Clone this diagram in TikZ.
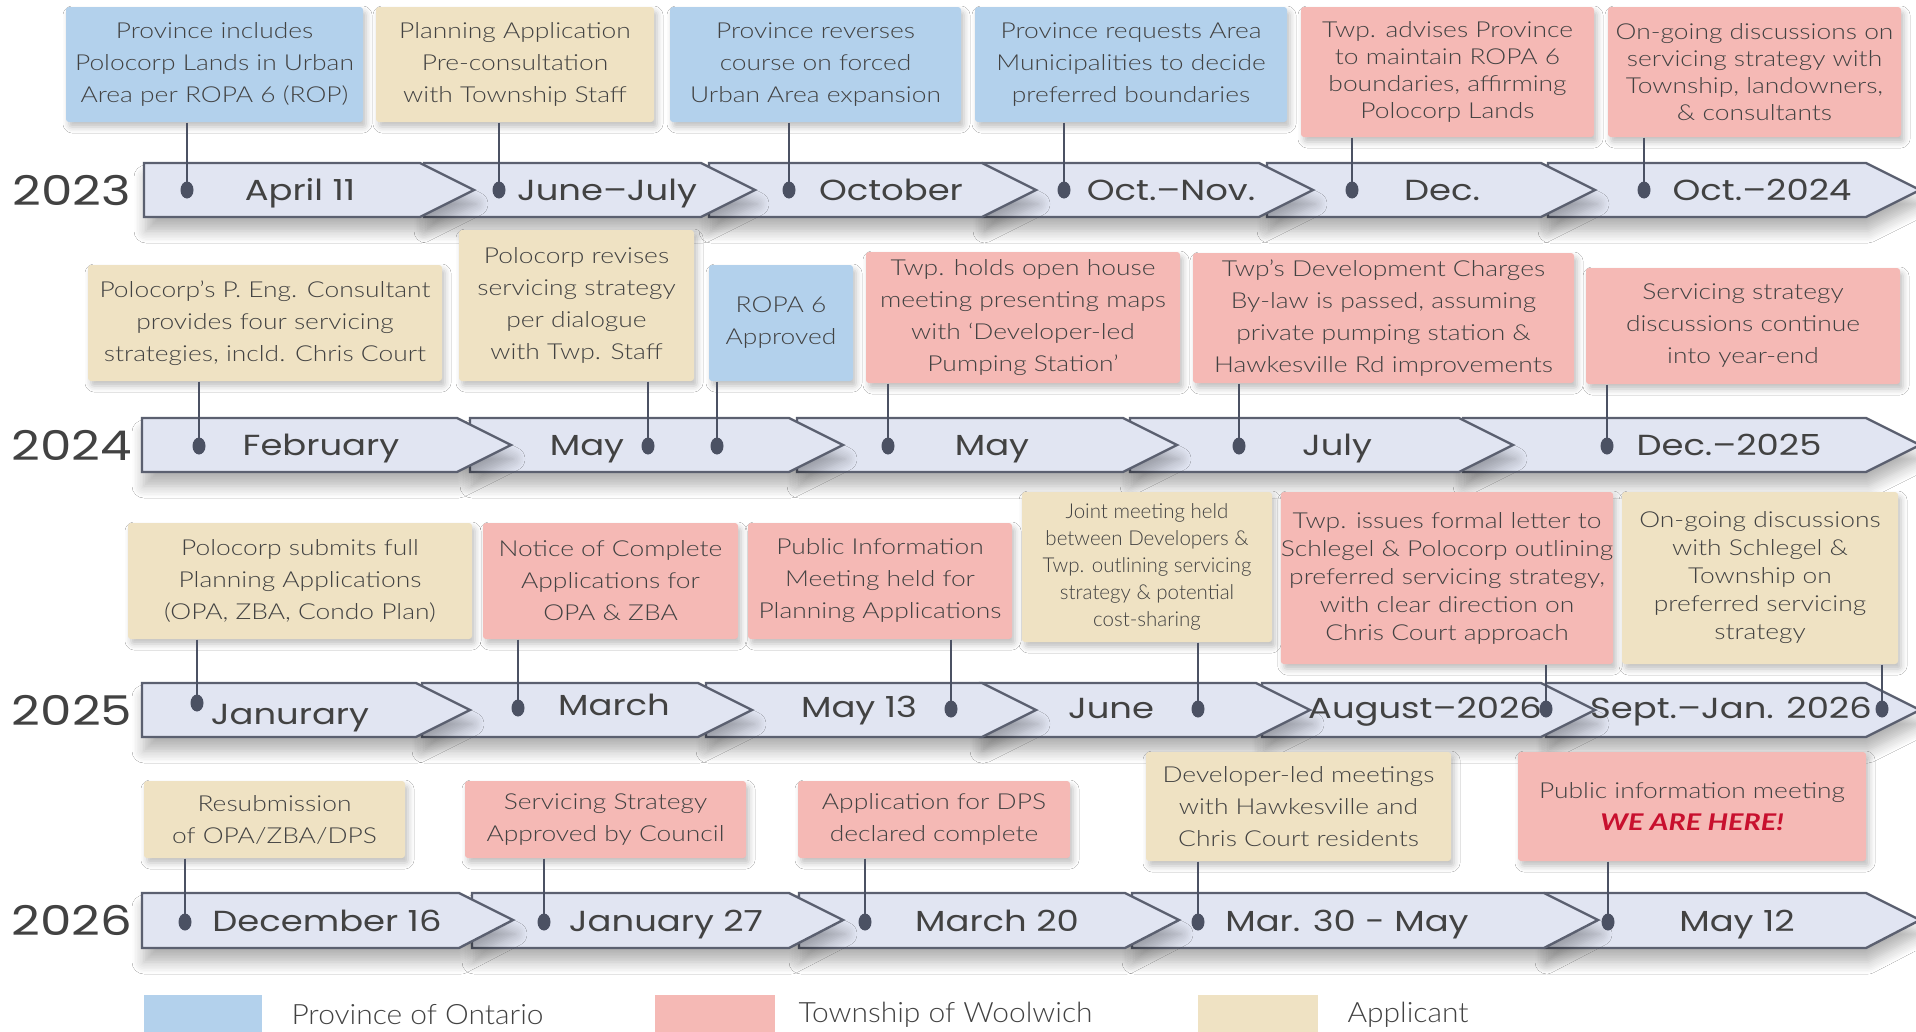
\documentclass[tikz,border=0pt]{standalone}
\usepackage{fontspec}
\setmainfont{Lato}
\newfontfamily\boxfont[FakeStretch=1.2]{Lato Light}
\newfontfamily\keyfont[FakeStretch=1.07]{Lato Light}
\newfontfamily\lightfont{Lato Light}
\newfontfamily\herefont[FakeStretch=1.25]{Lato}
\newfontfamily\datefont[FakeStretch=1.22]{Poppins}
\usetikzlibrary{shapes.geometric, shadows.blur}
\definecolor{cblue}{HTML}{B3D1EC}
\definecolor{cpink}{HTML}{F5B9B5}
\definecolor{ctan}{HTML}{EFE2C3}
\definecolor{cchev}{HTML}{E1E5F2}
\definecolor{cedge}{HTML}{5B6070}
\definecolor{cdot}{HTML}{4B5163}
\definecolor{ctext}{HTML}{424242}
\definecolor{cred}{HTML}{C8102E}
\tikzset{
  every picture/.style={line width=1pt},
  evt/.style={fill=#1, rounded corners=3pt, align=center, text=ctext, inner sep=0pt,
    font=\boxfont\fontsize{22}{32}\selectfont,
    blur shadow={shadow xshift=3pt, shadow yshift=-5pt, shadow blur radius=6pt, shadow opacity=25}},
  chev/.style={fill=cchev, draw=cedge, line width=2.4pt,
    blur shadow={shadow xshift=2pt, shadow yshift=-14pt, shadow blur radius=12pt, shadow blur steps=8, shadow opacity=30}},
  dot/.style={ellipse, fill=cdot, minimum width=13pt, minimum height=17pt, inner sep=0pt},
  stem/.style={draw=cdot, line width=2pt},
  date/.style={text=ctext, font=\datefont\fontsize{29}{30}\selectfont, inner sep=0pt, anchor=base},
  yr/.style={text=ctext, font=\datefont\fontsize{41}{41}\selectfont, inner sep=0pt},
  key/.style={text=ctext, font=\keyfont\fontsize{28}{30}\selectfont, anchor=west, inner sep=0pt},
}
\begin{document}
\begin{tikzpicture}[x=1pt, y=-1pt]
  \clip (0,0) rectangle (1916,1031);
  \fill[white] (0,0) rectangle (1916,1031);

  % chevrons, right to left so each tip lies on top
  \foreach \a/\b in {1548/1920, 1267/1595, 983/1313, 709/1036, 424/755, 144/474}
    \path[chev] (\a,163) -- (\b-54,163) -- (\b,190) -- (\b-54,217) -- (\a,217) -- cycle;
  \foreach \a/\b in {1463/1920, 1130/1513, 797/1177, 470/843, 142/511}
    \path[chev] (\a,418) -- (\b-54,418) -- (\b,445) -- (\b-54,472) -- (\a,472) -- cycle;
  \foreach \a/\b in {1546/1920, 1262/1595, 980/1310, 706/1036, 422/752, 142/470}
    \path[chev] (\a,683) -- (\b-54,683) -- (\b,710) -- (\b-54,737) -- (\a,737) -- cycle;
  \foreach \a/\b in {1545/1920, 1132/1598, 799/1179, 472/843, 142/513}
    \path[chev] (\a,893) -- (\b-54,893) -- (\b,920) -- (\b-54,948) -- (\a,948) -- cycle;

  % years
  \node[yr] (y23) at (72,190) {2023};
  \node[yr] (y24) at (72,445) {2024};
  \node[yr] (y25) at (72,710) {2025};
  \node[yr] (y26) at (72,920) {2026};

  % dates (baselines)
  \foreach \x/\t in {300/April 11, 607/June–July, 891/October, 1171/Oct.–Nov., 1442/Dec., 1762/Oct.–2024}
    \node[date] at (\x,200) {\t};
  \foreach \x/\t in {321/February, 587/May, 992/May, 1337/July, 1729/Dec.–2025}
    \node[date] at (\x,455) {\t};
  \foreach \x/\y/\t in {290/724/Janurary, 614/715/March, 859/717/May 13, 1111/718/June, 1425/718/August–2026, 1731/718/Sept.–Jan. 2026}
    \node[date] at (\x,\y) {\t};
  \foreach \x/\t in {327/December 16, 666/January 27, 997/March 20, 1347/Mar. 30 - May, 1737/May 12}
    \node[date] at (\x,931) {\t};

  % event boxes, 2023
  \node[evt=cblue, minimum width=297pt, minimum height=115pt] (a1) at (214.5,64.5) {Province includes\\Polocorp Lands in Urban\\Area per ROPA 6 (ROP)};
  \node[evt=ctan, minimum width=278pt, minimum height=115pt] (a2) at (515,64.5) {Planning Application\\Pre-consultation\\with Township Staff};
  \node[evt=cblue, minimum width=291pt, minimum height=115pt] (a3) at (815.5,64.5) {Province reverses\\course on forced\\Urban Area expansion};
  \node[evt=cblue, minimum width=312pt, minimum height=115pt] (a4) at (1131,64.5) {Province requests Area\\Municipalities to decide\\preferred boundaries};
  \node[evt=cpink, minimum width=293pt, minimum height=130pt, font=\boxfont\fontsize{22}{27}\selectfont] (a5) at (1447.5,72) {Twp. advises Province\\to maintain ROPA 6\\boundaries, affirming\\Polocorp Lands};
  \node[evt=cpink, minimum width=293pt, minimum height=130pt, font=\boxfont\fontsize{22}{27}\selectfont] (a6) at (1754.5,72) {On-going discussions on\\servicing strategy with\\Township, landowners,\\\& consultants};

  % event boxes, 2024
  \node[evt=ctan, minimum width=354pt, minimum height=116pt] (b1) at (265,323) {Polocorp’s P. Eng. Consultant\\provides four servicing\\strategies, incld. Chris Court};
  \node[evt=ctan, minimum width=235pt, minimum height=151pt] (b2) at (576.5,305.5) {Polocorp revises\\servicing strategy\\per dialogue\\with Twp. Staff};
  \node[evt=cblue, minimum width=144pt, minimum height=116pt] (b3) at (781,323) {ROPA 6\\Approved};
  \node[evt=cpink, minimum width=314pt, minimum height=131pt] (b4) at (1023,317.5) {Twp. holds open house\\meeting presenting maps\\with ‘Developer-led\\Pumping Station’};
  \node[evt=cpink, minimum width=381pt, minimum height=130pt] (b5) at (1383.5,318) {Twp’s Development Charges\\By-law is passed, assuming\\private pumping station \&\\Hawkesville Rd improvements};
  \node[evt=cpink, minimum width=314pt, minimum height=116pt] (b6) at (1743,326) {Servicing strategy\\discussions continue\\into year-end};

  % event boxes, 2025
  \node[evt=ctan, minimum width=344pt, minimum height=116pt] (c1) at (300,581) {Polocorp submits full\\Planning Applications\\(OPA, ZBA, Condo Plan)};
  \node[evt=cpink, minimum width=255pt, minimum height=116pt] (c2) at (610.5,581) {Notice of Complete\\Applications for\\OPA \& ZBA};
  \node[evt=cpink, minimum width=264pt, minimum height=116pt] (c3) at (880,581) {Public Information\\Meeting held for\\Planning Applications};
  \node[evt=ctan, minimum width=250pt, minimum height=150pt, font=\lightfont\fontsize{20.5}{27}\selectfont] (c4) at (1147,567) {Joint meeting held\\between Developers \&\\Twp. outlining servicing\\strategy \& potential\\cost-sharing};
  \node[evt=cpink, minimum width=330pt, minimum height=172pt, font=\boxfont\fontsize{22}{28}\selectfont] (c5) at (1447,578) {Twp. issues formal letter to\\Schlegel \& Polocorp outlining\\preferred servicing strategy,\\with clear direction on\\Chris Court approach};
  \node[evt=ctan, minimum width=276pt, minimum height=172pt, font=\boxfont\fontsize{22}{28}\selectfont] (c6) at (1760,578) {On-going discussions\\with Schlegel \&\\Township on\\preferred servicing\\strategy};

  % event boxes, 2026
  \node[evt=ctan, minimum width=261pt, minimum height=77pt] (d1) at (274.5,819.5) {Resubmission\\of OPA/ZBA/DPS};
  \node[evt=cpink, minimum width=281pt, minimum height=77pt] (d2) at (605.5,819.5) {Servicing Strategy\\Approved by Council};
  \node[evt=cpink, minimum width=272pt, minimum height=77pt] (d3) at (934,819.5) {Application for DPS\\declared complete};
  \node[evt=ctan, minimum width=305pt, minimum height=109pt] (d4) at (1298.5,806.5) {Developer-led meetings\\with Hawkesville and\\Chris Court residents};
  \node[evt=cpink, minimum width=348pt, minimum height=109pt] (d5) at (1692,806.5) {Public information meeting\\{\herefont\fontsize{23}{32}\selectfont\color{cred}\bfseries\itshape WE ARE HERE!}};

  % dots on the timeline
  \foreach \n/\x in {1/187, 2/499, 3/789, 4/1064, 5/1352, 6/1644}
    \node[dot] (pa\n) at (\x,190) {};
  \foreach \n/\x in {1/199, 2/648, 3/717, 4/888, 5/1239, 6/1607}
    \node[dot] (pb\n) at (\x,446) {};
  \foreach \n/\x/\y in {1/197/703, 2/518/708, 3/951/709, 4/1198/709, 5/1546/709, 6/1882/709}
    \node[dot] (pc\n) at (\x,\y) {};
  \foreach \n/\x in {1/185, 2/544, 3/865, 4/1198, 5/1608}
    \node[dot] (pd\n) at (\x,922) {};

  % stems from each box down to its dot
  \foreach \n in {1,...,6} \draw[stem] (pa\n |- a\n.south) -- (pa\n.center);
  \foreach \n in {1,...,6} \draw[stem] (pb\n |- b\n.south) -- (pb\n.center);
  \foreach \n in {1,...,6} \draw[stem] (pc\n |- c\n.south) -- (pc\n.center);
  \foreach \n in {1,...,5} \draw[stem] (pd\n |- d\n.south) -- (pd\n.center);

  % legend
  \fill[cblue] (144,995) rectangle (262,1035);
  \fill[cpink] (655,995) rectangle (775,1035);
  \fill[ctan] (1198,995) rectangle (1318,1035);
  \node[key] (k1) at (291,1015) {Province of Ontario};
  \node[key] (k2) at (798,1015) {Township of Woolwich};
  \node[key] (k3) at (1347,1015) {Applicant};
\end{tikzpicture}
\end{document}
